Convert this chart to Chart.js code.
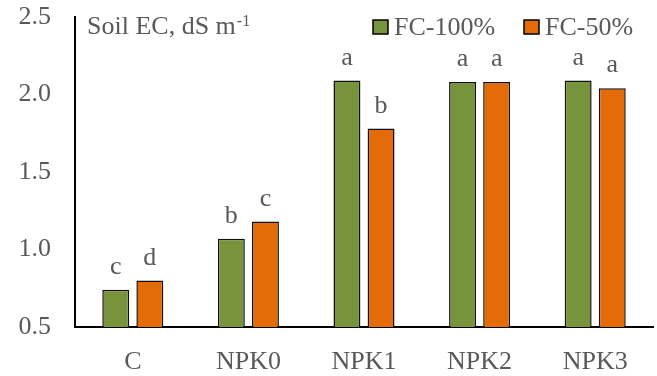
<!DOCTYPE html>
<html lang="en">
<head>
<meta charset="UTF-8">
<title>Soil EC</title>
<script src="https://cdn.jsdelivr.net/npm/chart.js"></script>
<style>
  body { margin: 0; background: #fff; }
  #wrap { width: 657px; height: 376px; position: relative; }
</style>
</head>
<body>
<div id="wrap"><canvas id="grafico"></canvas></div>
<script>
// data
var categorias = ['C', 'NPK0', 'NPK1', 'NPK2', 'NPK3'];
var serieNomes = ['FC-100%', 'FC-50%'];
var fc100 = [0.74, 1.07, 2.09, 2.08, 2.09];
var fc50 = [0.80, 1.18, 1.78, 2.08, 2.04];
var letras100 = ['c', 'b', 'a', 'a', 'a'];
var letras50 = ['d', 'c', 'b', 'a', 'a'];
var yTicks = [0.5, 1.0, 1.5, 2.0, 2.5];

var verde = '#77933C';
var laranja = '#E36C09';
var cinza = '#595959';
var fonte = '"Liberation Serif", serif';

// letters above bars, title and legend
var extras = {
  id: 'extras',
  afterDatasetsDraw: function (chart) {
    var ctx = chart.ctx;
    var letras = [letras100, letras50];
    ctx.save();
    ctx.fillStyle = cinza;
    ctx.font = '26px ' + fonte;
    ctx.textAlign = 'center';
    ctx.textBaseline = 'alphabetic';
    for (var d = 0; d < 2; d++) {
      var meta = chart.getDatasetMeta(d);
      meta.data.forEach(function (bar, i) {
        ctx.fillText(letras[d][i], bar.x, bar.y - 16);
      });
    }

    // title with superscript
    ctx.textAlign = 'left';
    ctx.font = '26px ' + fonte;
    var t = 'Soil EC, dS m';
    ctx.fillText(t, 87, 34);
    var w = ctx.measureText(t).width;
    ctx.font = '16px ' + fonte;
    ctx.fillText('-1', 87 + w + 1, 26);

    // legend
    var cores = [verde, laranja];
    var xs = [373, 524];
    ctx.font = '26px ' + fonte;
    for (var k = 0; k < 2; k++) {
      ctx.fillStyle = cores[k];
      ctx.fillRect(xs[k], 20, 15, 14);
      ctx.strokeStyle = '#000';
      ctx.lineWidth = 1.5;
      ctx.strokeRect(xs[k], 20, 15, 14);
      ctx.fillStyle = cinza;
      ctx.fillText(serieNomes[k], xs[k] + 21, 35);
    }
    ctx.restore();
  }
};

new Chart(document.getElementById('grafico'), {
  type: 'bar',
  data: {
    labels: categorias,
    datasets: [
      { label: serieNomes[0], data: fc100, backgroundColor: verde, borderColor: '#111', borderWidth: 1.5 },
      { label: serieNomes[1], data: fc50, backgroundColor: laranja, borderColor: '#111', borderWidth: 1.5 }
    ]
  },
  options: {
    responsive: true,
    maintainAspectRatio: false,
    animation: false,
    categoryPercentage: 0.59,
    barPercentage: 0.79,
    layout: { padding: { top: 17, right: 4, left: 0, bottom: 0 } },
    plugins: {
      legend: { display: false },
      tooltip: { enabled: false }
    },
    scales: {
      x: {
        grid: { display: false, drawTicks: false },
        border: { color: '#000', width: 2 },
        ticks: { color: cinza, font: { family: fonte, size: 26 }, padding: 20 },
        afterFit: function (s) { s.height = 49; s.paddingLeft = 0; s.paddingRight = 0; }
      },
      y: {
        min: 0.5,
        max: 2.5,
        afterBuildTicks: function (s) { s.ticks = yTicks.map(function (v) { return { value: v }; }); },
        grid: { display: false, drawTicks: false },
        border: { color: '#000', width: 2 },
        ticks: {
          color: cinza,
          font: { family: fonte, size: 26 },
          padding: 24,
          callback: function (v) { return Number(v).toFixed(1); }
        },
        afterFit: function (s) { s.width = 75; s.paddingTop = 0; s.paddingBottom = 0; }
      }
    }
  },
  plugins: [extras]
});
</script>
</body>
</html>
